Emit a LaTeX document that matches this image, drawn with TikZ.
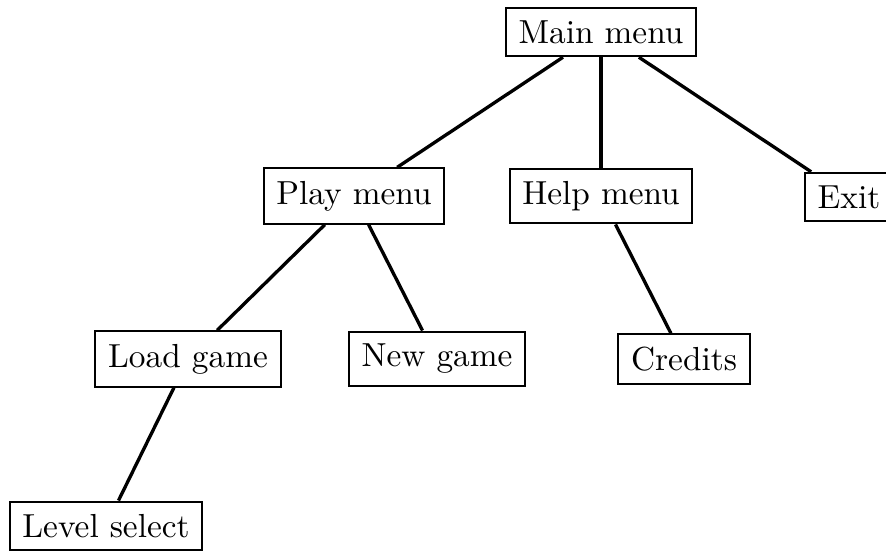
\documentclass[tikz,border=0pt]{standalone}
\begin{document}
\begin{tikzpicture}[x=0.3pt, y=-0.3pt,
  menubox/.style={draw, line width=0.6pt, inner sep=3.8pt, font=\fontsize{10}{12}\selectfont},
  link/.style={line width=1pt}]
\useasboundingbox (0,0) rectangle (886,551);
\node[menubox] (main)   at (601,32)  {Main menu};
\node[menubox] (play)   at (354,196) {Play menu};
\node[menubox] (help)   at (601,196) {Help menu};
\node[menubox] (exit)   at (849,197) {Exit};
\node[menubox] (load)   at (188,359) {Load game};
\node[menubox] (new)    at (437,359) {New game};
\node[menubox] (cred)   at (684,359) {Credits};
\node[menubox] (level)  at (106,526) {Level select};
\draw[link] (main) -- (play);
\draw[link] (main) -- (help);
\draw[link] (main) -- (exit);
\draw[link] (play) -- (load);
\draw[link] (play) -- (new);
\draw[link] (help) -- (cred);
\draw[link] (load) -- (level);
\end{tikzpicture}
\end{document}
